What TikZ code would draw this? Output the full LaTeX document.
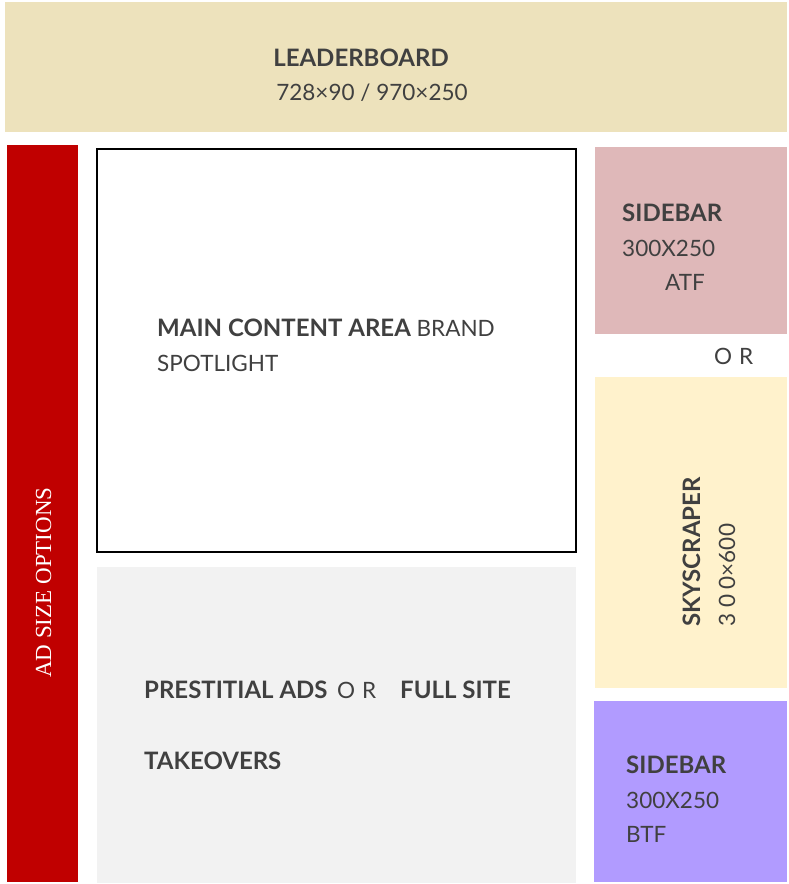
\documentclass[tikz,border=0pt]{standalone}
\usepackage{fontspec}
\setmainfont{Lato}
\newfontfamily\serifx{Liberation Serif}
\newcommand{\bigbold}{\fontsize{24}{28}\selectfont\bfseries}
\definecolor{txt}{RGB}{64,64,64}
\definecolor{leadc}{RGB}{237,226,188}
\definecolor{redc}{RGB}{192,0,0}
\definecolor{greyc}{RGB}{242,242,242}
\definecolor{atfc}{RGB}{223,184,185}
\definecolor{skyc}{RGB}{255,242,204}
\definecolor{btfc}{RGB}{177,155,255}
\tikzset{
  lbl/.style={text=txt, inner sep=0pt, font=\fontsize{22.5}{27}\selectfont},
}
\begin{document}
\begin{tikzpicture}[x=1pt,y=-1pt]
\useasboundingbox[fill=white] (0,0) rectangle (788,884);
% boxes
\fill[leadc] (5,2) rectangle (787,132);
\fill[redc] (7,145) rectangle (78,882);
\draw[black, line width=2pt, fill=white] (97,149) rectangle (576,552);
\fill[greyc] (97,567) rectangle (576,883);
\fill[atfc] (595,147) rectangle (787,334);
\fill[skyc] (595,377) rectangle (787,688);
\fill[btfc] (594,701) rectangle (787,882);
% leaderboard
\node[lbl, anchor=base] (lb1) at (361,66) {\bigbold LEADERBOARD};
\node[lbl, anchor=base] (lb2) at (372,100) {728×90 / 970×250};
% main
\node[lbl, anchor=base west] (m1) at (157,336) {{\bigbold MAIN CONTENT AREA} BRAND};
\node[lbl, anchor=base west] (m2) at (157,371) {SPOTLIGHT};
% prestitial
\node[lbl, anchor=base west] (p1) at (144,698) {\bigbold PRESTITIAL ADS};
\node[lbl, anchor=base west] (p1b) at (337,698) {O\hspace{7pt}R};
\node[lbl, anchor=base west] (p1c) at (400,698) {\bigbold FULL SITE};
\node[lbl, anchor=base west] (p2) at (144,769) {\bigbold TAKEOVERS};
% sidebar atf
\node[lbl, anchor=base west] (a1) at (622,221) {\bigbold SIDEBAR};
\node[lbl, anchor=base west] (a2) at (622,256) {300X250};
\node[lbl, anchor=base west] (a3) at (665,290) {ATF};
% or
\node[lbl, anchor=base west] (or) at (714,364) {O\hspace{7pt}R};
% skyscraper
\node[lbl, anchor=base west, rotate=90] (s1) at (700,627) {\bigbold SKYSCRAPER};
\node[lbl, anchor=base west, rotate=90] (s2) at (735,627) {3 0 0×600};
% sidebar btf
\node[lbl, anchor=base west] (b1) at (626,773) {\bigbold SIDEBAR};
\node[lbl, anchor=base west] (b2) at (626,808) {300X250};
\node[lbl, anchor=base west] (b3) at (626,842) {BTF};
% ad size options
\node[text=white, inner sep=0pt, anchor=base west, rotate=90, font=\serifx\fontsize{23}{27}\selectfont] (ad) at (51,678) {AD SIZE OPTIONS};
\end{tikzpicture}
\end{document}
